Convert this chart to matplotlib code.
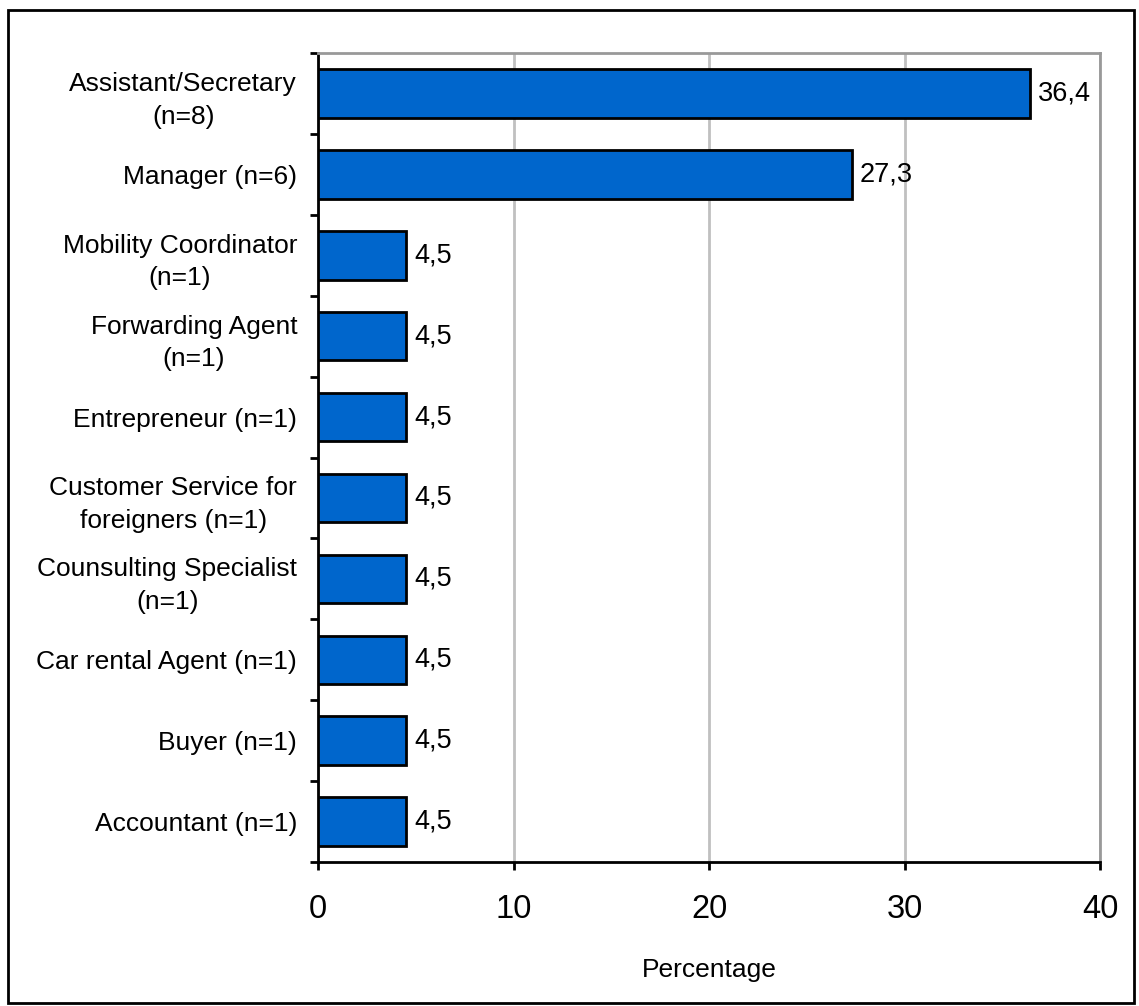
import numpy as np
import matplotlib.pyplot as plt
from matplotlib.patches import Rectangle

plt.rcParams['font.family'] = ['Liberation Sans', 'DejaVu Sans']

jobs = ["Assistant/Secretary\n(n=8)", "Manager (n=6)", "Mobility Coordinator\n(n=1)",
        "Forwarding Agent\n(n=1)", "Entrepreneur (n=1)", "Customer Service for\nforeigners (n=1)",
        "Counsulting Specialist\n(n=1)", "Car rental Agent (n=1)", "Buyer (n=1)", "Accountant (n=1)"]
pct = [36.4, 27.3, 4.5, 4.5, 4.5, 4.5, 4.5, 4.5, 4.5, 4.5]
xticks = [0, 10, 20, 30, 40]

fig = plt.figure(figsize=(11.39, 10.06), dpi=100)
ax = fig.add_axes([0.2792, 0.1431, 0.6866, 0.8042])

# outer frame round the whole chart
fig.patches.append(Rectangle((0.007, 0.003), 0.989, 0.987, transform=fig.transFigure,
                             fill=False, edgecolor='black', linewidth=2))

y = np.arange(len(jobs))
bars = ax.barh(y, pct, height=0.6, color='#0066CC', edgecolor='black', linewidth=2, zorder=3)

for b, v in zip(bars, pct):
    ax.annotate(f"{v:.1f}".replace('.', ','), (b.get_width(), b.get_y() + b.get_height() / 2),
                xytext=(6, 0), textcoords='offset points', va='center', ha='left', fontsize=19.5)

ax.set_xlim(0, 40)
ax.set_ylim(len(jobs) - 0.5, -0.5)
ax.set_xticks(xticks)
ax.set_xticklabels([str(t) for t in xticks], fontsize=23.5)
ax.tick_params(axis='x', length=6, width=2, pad=17)

ax.set_yticks(y)
ax.set_yticklabels(jobs, fontsize=19, multialignment='center', linespacing=1.45)
ax.tick_params(axis='y', which='major', length=0, pad=15)
ax.set_yticks(np.arange(-0.5, len(jobs)), minor=True)
ax.tick_params(axis='y', which='minor', length=6, width=2)

ax.xaxis.grid(True, color='#c0c0c0', linewidth=2, zorder=0)
ax.set_axisbelow(True)

for s in ['left', 'bottom']:
    ax.spines[s].set_linewidth(2)
for s in ['top', 'right']:
    ax.spines[s].set_color('#999999')
    ax.spines[s].set_linewidth(2)

ax.set_xlabel("Percentage", fontsize=19, labelpad=24)

fig.savefig("out.png", dpi=100)
